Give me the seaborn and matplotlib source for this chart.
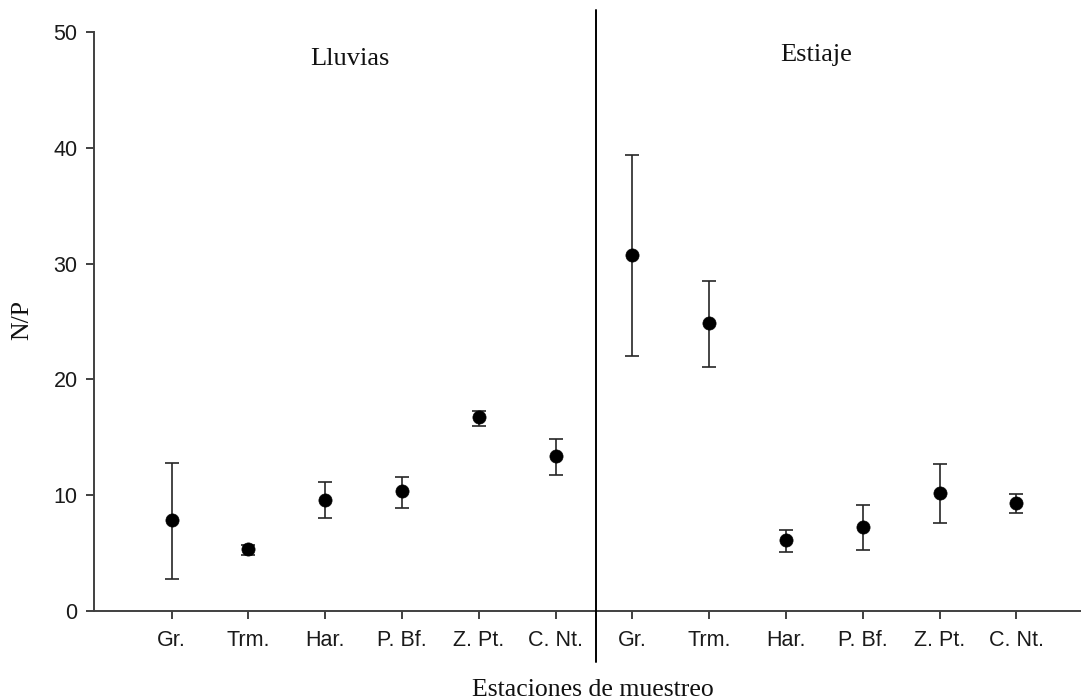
import matplotlib
matplotlib.use("Agg")
import matplotlib.pyplot as plt
import seaborn as sns
import pandas as pd
import numpy as np

# Sampling stations, repeated for the two seasons
stations = ["Gr.", "Trm.", "Har.", "P. Bf.", "Z. Pt.", "C. Nt."]
seasons = ["Lluvias", "Estiaje"]

# N/P ratio: mean with lower and upper error limits per station
lluvias_mean = [7.86, 5.33, 9.61, 10.36, 16.73, 13.38]
lluvias_low = [2.79, 4.86, 8.06, 8.89, 15.98, 11.72]
lluvias_high = [12.75, 5.70, 11.14, 11.57, 17.30, 14.88]

estiaje_mean = [30.74, 24.90, 6.13, 7.23, 10.16, 9.30]
estiaje_low = [22.02, 21.04, 5.12, 5.24, 7.63, 8.44]
estiaje_high = [39.38, 28.47, 6.99, 9.15, 12.67, 10.07]

y_ticks = [0, 10, 20, 30, 40, 50]

df = pd.DataFrame({
    "pos": np.arange(len(stations) * 2),
    "station": stations * 2,
    "season": [seasons[0]] * len(stations) + [seasons[1]] * len(stations),
    "mean": lluvias_mean + estiaje_mean,
    "low": lluvias_low + estiaje_low,
    "high": lluvias_high + estiaje_high,
})

sns.set_theme(style="ticks")
plt.rcParams["font.family"] = ["Liberation Sans", "DejaVu Sans"]

W, H = 1081, 700
fig = plt.figure(figsize=(W / 100, H / 100), dpi=100)
ax = fig.add_axes([94 / W, 1 - 611 / H, (1081 - 94) / W, (611 - 32) / H])

# error bars (asymmetric limits)
yerr = np.vstack([df["mean"] - df["low"], df["high"] - df["mean"]])
ax.errorbar(df["pos"], df["mean"], yerr=yerr, fmt="none", ecolor="#262626",
            elinewidth=1.2, capsize=5.2, capthick=1.2, zorder=2)

# mean points
sns.scatterplot(data=df, x="pos", y="mean", ax=ax, color="black", s=90,
                marker="o", edgecolor="black", linewidth=0.5, zorder=3, legend=False)

ax.set_xlim(-1.01, 11.84)
ax.set_ylim(0, 50)
ax.set_yticks(y_ticks)
ax.set_xticks(df["pos"])
ax.set_xticklabels(df["station"])

for side in ["top", "right"]:
    ax.spines[side].set_visible(False)
for side in ["left", "bottom"]:
    ax.spines[side].set_color("#404040")
    ax.spines[side].set_linewidth(1.4)

ax.tick_params(axis="both", direction="out", length=5.8, width=1.4,
               color="#404040", labelsize=15.5, labelcolor="#1a1a1a")
ax.tick_params(axis="y", pad=6)
ax.tick_params(axis="x", pad=8)

serif = ["Liberation Serif", "DejaVu Serif"]

# season divider
ax.axvline(5.52, ymin=-0.088, ymax=1.038, color="black", linewidth=1.4,
           clip_on=False, zorder=4)

# season names
ax.text(2.32, 47.7, seasons[0], ha="center", va="center", fontsize=19,
        family=serif, color="#111111")
ax.text(8.39, 48.0, seasons[1], ha="center", va="center", fontsize=19,
        family=serif, color="#111111")

ax.set_xlabel("Estaciones de muestreo", fontsize=18.5, family=serif, color="#111111")
ax.xaxis.label.set_va("baseline")
ax.xaxis.set_label_coords(0.5056, -0.147)
ax.set_ylabel("N/P", fontsize=18.5, family=serif, color="#111111")
ax.yaxis.label.set_va("center")
ax.yaxis.set_label_coords(-0.073, 0.503)

fig.savefig("out.png", dpi=100, facecolor="white")
